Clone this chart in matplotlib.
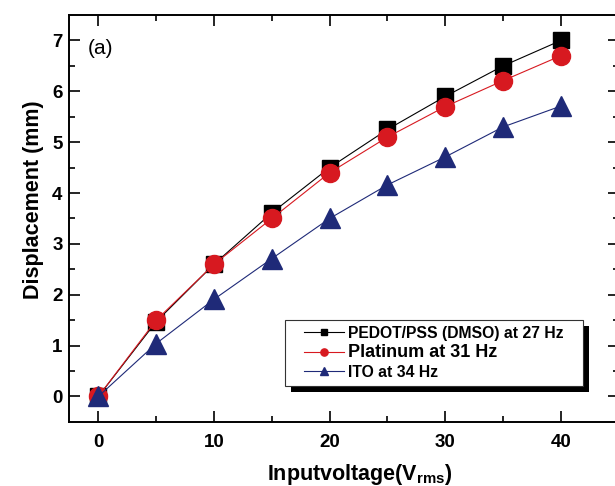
import numpy as np
import matplotlib
matplotlib.use('Agg')
import matplotlib.pyplot as plt
from matplotlib.patches import Rectangle

plt.rcParams['font.family'] = ['Liberation Sans', 'DejaVu Sans']
plt.rcParams['mathtext.fontset'] = 'custom'
plt.rcParams['mathtext.rm'] = 'Liberation Sans:bold'
plt.rcParams['mathtext.it'] = 'Liberation Sans:bold'

voltage = [0, 5, 10, 15, 20, 25, 30, 35, 40]
pedot = [0, 1.47, 2.6, 3.61, 4.5, 5.25, 5.9, 6.5, 7.0]
platinum = [0, 1.5, 2.6, 3.5, 4.4, 5.1, 5.7, 6.21, 6.7]
ito = [0, 1.04, 1.91, 2.71, 3.5, 4.16, 4.71, 5.3, 5.71]
labels = ['PEDOT/PSS (DMSO) at 27 Hz', 'Platinum at 31 Hz', 'ITO at 34 Hz']

fig = plt.figure(figsize=(6.15, 4.86), dpi=100)
ax = fig.add_axes([0.113, 0.132, 0.893, 0.837])

ax.plot(voltage, pedot, '-s', color='black', lw=0.8, ms=11, label=labels[0])
ax.plot(voltage, platinum, '-o', color='#d71920', mec='#d71920', lw=0.8, ms=13, label=labels[1])
ax.plot(voltage, ito, '-^', color='#1f2a78', lw=0.8, ms=14, label=labels[2])

ax.set_xlim(-2.5, 45)
ax.set_ylim(-0.5, 7.5)
ax.set_xticks([0, 10, 20, 30, 40])
ax.set_xticks(np.arange(5, 45, 10), minor=True)
ax.set_yticks(range(8))
ax.set_yticks(np.arange(0.5, 7.5, 1), minor=True)
ax.tick_params(which='both', direction='in', top=True, right=True, width=1.2)
ax.tick_params(which='major', length=8, labelsize=13.5)
ax.tick_params(which='minor', length=4)
ax.tick_params(axis='x', which='major', pad=9)
ax.tick_params(axis='y', which='major', pad=5)
for lab in ax.get_xticklabels() + ax.get_yticklabels():
    lab.set_fontweight('bold')
for s in ax.spines.values():
    s.set_linewidth(1.4)

ax.set_xlabel('Inputvoltage(V$_{rms}$)', fontsize=15.5, fontweight='bold', labelpad=8)
ax.set_ylabel('Displacement (mm)', fontsize=15.5, fontweight='bold', labelpad=6)
ax.xaxis.label.set_x(0.529)
ax.yaxis.label.set_y(0.545)
ax.text(0.033, 0.919, '(a)', transform=ax.transAxes, fontsize=15, va='center')

leg = ax.legend(loc='center', bbox_to_anchor=(0.664, 0.17), frameon=False,
                markerscale=0.4, handlelength=2.55, handletextpad=0.25,
                labelspacing=0.22, borderpad=0.0,
                prop={'weight': 'bold', 'size': 11.3})
leg.get_texts()[1].set_fontsize(13)

# boxed frame with a drop shadow down-right, like the original
fig.canvas.draw()
bb = leg.get_window_extent()
padx, pady, off = 19, 6, 6
x0, y0 = ax.transAxes.inverted().transform((bb.x0 - padx, bb.y0 - pady))
x1, y1 = ax.transAxes.inverted().transform((bb.x1 + padx, bb.y1 + pady))
sx, sy = off / ax.bbox.width, off / ax.bbox.height
ax.add_patch(Rectangle((x0 + sx, y0 - sy), x1 - x0, y1 - y0, transform=ax.transAxes,
                       facecolor='black', edgecolor='none', zorder=4.5, clip_on=False))
ax.add_patch(Rectangle((x0, y0), x1 - x0, y1 - y0, transform=ax.transAxes,
                       facecolor='white', edgecolor='#333333', lw=0.8, zorder=4.6,
                       clip_on=False))

fig.savefig('out.png', dpi=100)
